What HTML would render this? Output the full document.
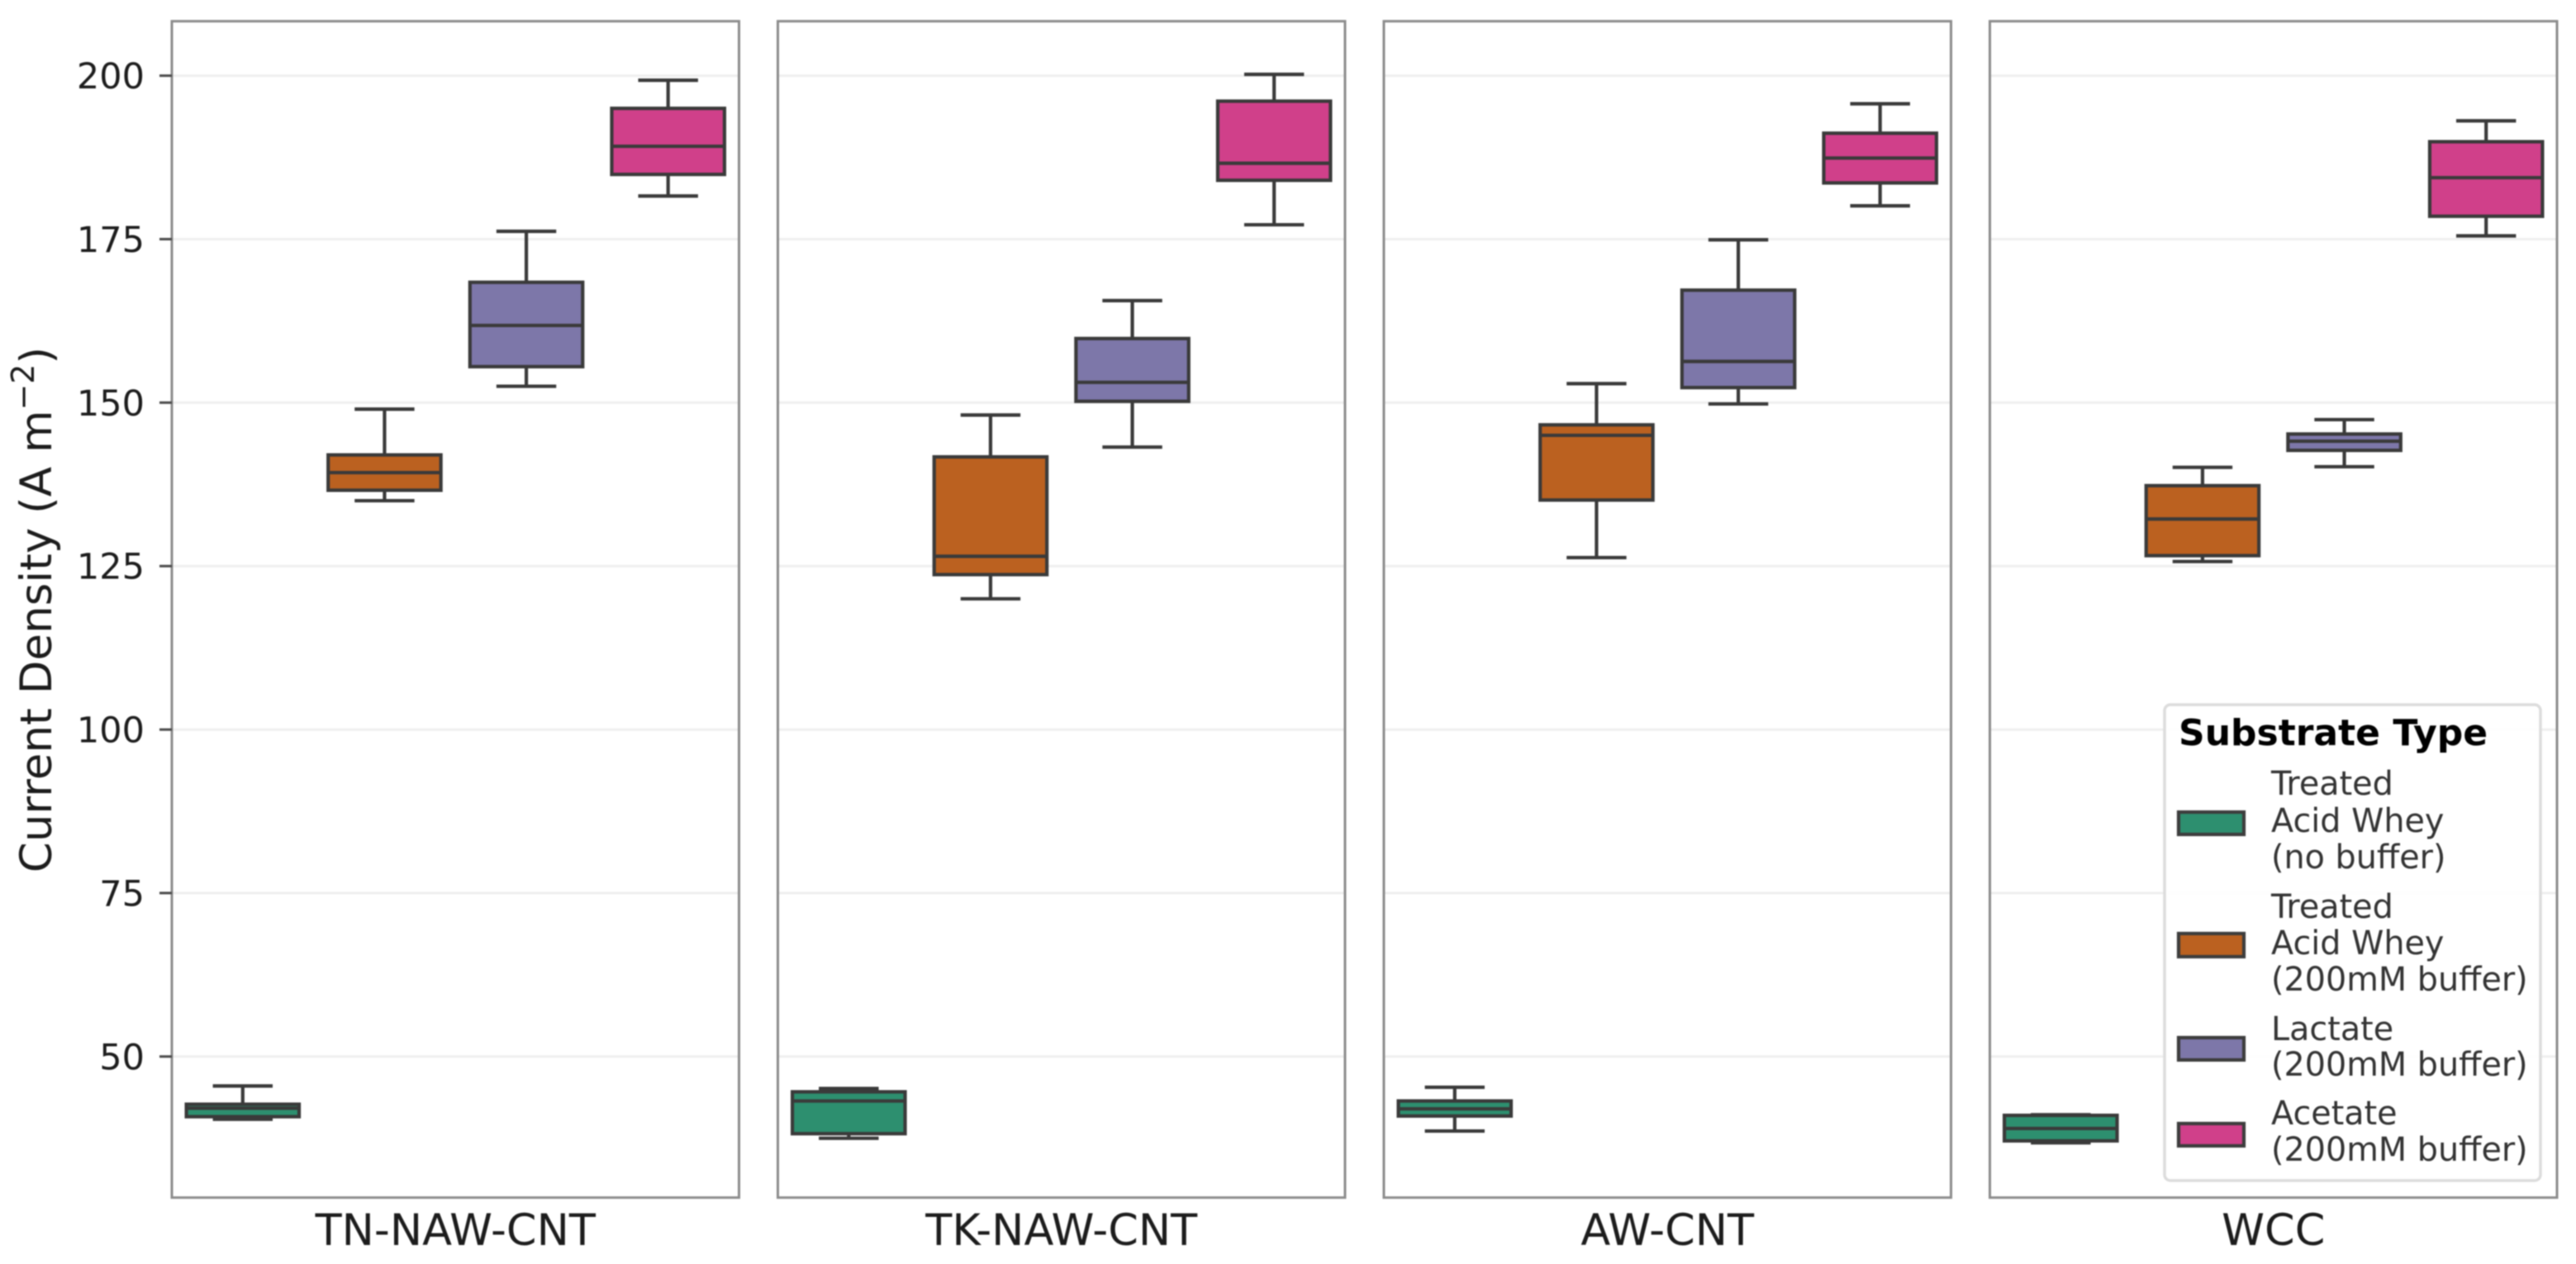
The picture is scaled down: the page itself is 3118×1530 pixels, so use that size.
<!DOCTYPE html>
<html lang="en">
<head>
<meta charset="utf-8">
<title>Current Density by Electrode and Substrate</title>
<style>
  html, body { margin: 0; padding: 0; background: #fff; }
  body { width: 3118px; height: 1530px; overflow: hidden; }
  svg { display: block; filter: blur(0.9px); font-family: "DejaVu Sans", "Liberation Sans", sans-serif; }
</style>
</head>
<body>
<svg id="chart" xmlns="http://www.w3.org/2000/svg" width="3118" height="1530" viewBox="0 0 3118 1530">
  <rect x="0" y="0" width="3118" height="1530" fill="#ffffff"/>
  <g id="panels"></g>
  <g id="y-axis"></g>
  <text x="62" y="738" transform="rotate(-90 62 738)" text-anchor="middle" font-size="53" fill="#1c1c1c">Current Density (A m<tspan font-size="38" dy="-21">−2</tspan><tspan dy="21">)</tspan></text>

  <g>
    <rect x="2620" y="853" width="455" height="576" rx="7" ry="7" fill="#ffffff" fill-opacity="0.9" stroke="#dcdcdc" stroke-width="3.5"/>
    <text x="2637" y="902" font-size="44" font-weight="bold" fill="#000000">Substrate Type</text>

    <g>
      <rect x="2637" y="983" width="79" height="27" fill="#2d8f6f" stroke="#3d3d3d" stroke-width="4.2"/>
      <text font-size="39.7" fill="#333333"><tspan x="2749" y="962">Treated</tspan><tspan x="2749" y="1007">Acid Whey</tspan><tspan x="2749" y="1051">(no buffer)</tspan></text>
    </g>
    <g>
      <rect x="2637" y="1130" width="79" height="28" fill="#bb6120" stroke="#3d3d3d" stroke-width="4.2"/>
      <text font-size="39.7" fill="#333333"><tspan x="2749" y="1111">Treated</tspan><tspan x="2749" y="1155">Acid Whey</tspan><tspan x="2749" y="1199">(200mM buffer)</tspan></text>
    </g>
    <g>
      <rect x="2637" y="1256" width="79" height="27" fill="#7d77a9" stroke="#3d3d3d" stroke-width="4.2"/>
      <text font-size="39.7" fill="#333333"><tspan x="2749" y="1259">Lactate</tspan><tspan x="2749" y="1302">(200mM buffer)</tspan></text>
    </g>
    <g>
      <rect x="2637" y="1360" width="79" height="27" fill="#d0408a" stroke="#3d3d3d" stroke-width="4.2"/>
      <text font-size="39.7" fill="#333333"><tspan x="2749" y="1361">Acetate</tspan><tspan x="2749" y="1405">(200mM buffer)</tspan></text>
    </g>
  </g>
</svg>

<script>
// ---- chart data (one row per electrode, one column per substrate) ----
const electrodes = ["TN-NAW-CNT", "TK-NAW-CNT", "AW-CNT", "WCC"];
const substrates = ["treated-no-buffer", "treated-200mm", "lactate", "acetate"];
const yTickValues = [50, 75, 100, 125, 150, 175, 200];

const whiskerHigh = [
  [45.5, 149.0, 176.2, 199.3],
  [45.1, 148.1, 165.6, 200.2],
  [45.3, 152.9, 174.9, 195.7],
  [41.1, 140.1, 147.4, 193.1]
];
const quartile3 = [
  [42.7, 142.0, 168.4, 195.0],
  [44.6, 141.7, 159.8, 196.1],
  [43.2, 146.6, 167.2, 191.2],
  [41.0, 137.3, 145.2, 189.9]
];
const medians = [
  [42.1, 139.3, 161.8, 189.2],
  [43.2, 126.5, 153.1, 186.6],
  [42.0, 145.0, 156.3, 187.4],
  [39.0, 132.2, 144.1, 184.4]
];
const quartile1 = [
  [40.8, 136.6, 155.5, 184.9],
  [38.2, 123.7, 150.2, 184.0],
  [40.9, 135.1, 152.3, 183.6],
  [37.1, 126.6, 142.7, 178.5]
];
const whiskerLow = [
  [40.4, 135.0, 152.5, 181.6],
  [37.5, 120.0, 143.2, 177.2],
  [38.6, 126.3, 149.8, 180.1],
  [36.8, 125.7, 140.2, 175.5]
];
const seriesColors = ["#2d8f6f", "#bb6120", "#7d77a9", "#d0408a"];

// ---- layout and axis functions ----
const SVG_NS = "http://www.w3.org/2000/svg";
const plotTop = 25.7;
const plotBottom = 1449.6;
const panelWidth = 686.5;
const panelStep = 733.5;
const firstPanelLeft = 208;
const lineColor = "#3a3a3a";
const lineWidth = 4.2;

function yScale(value) {
  return 91.6 + (200 - value) * 7.915;
}
function panelLeft(panelIndex) {
  return firstPanelLeft + panelIndex * panelStep;
}
function xCenter(panelIndex, seriesIndex) {
  return panelLeft(panelIndex) + panelWidth / substrates.length * (seriesIndex + 0.5);
}
const boxWidth = 0.795 * panelWidth / substrates.length;
const capWidth = boxWidth / 2;

function make(tag, attrs, parent) {
  const el = document.createElementNS(SVG_NS, tag);
  for (const key in attrs) {
    el.setAttribute(key, attrs[key]);
  }
  parent.appendChild(el);
  return el;
}

const panelsRoot = document.getElementById("panels");
const yAxisRoot = document.getElementById("y-axis");

// y-axis ticks and labels
yTickValues.forEach(function (tick) {
  const y = yScale(tick);
  const mark = make("line", { x1: 193, x2: 208, y1: y, y2: y, stroke: "#4a4a4a", "stroke-width": 3 }, yAxisRoot);
  
  
  const label = make("text", { x: 175, y: y + 15.5, "text-anchor": "end", "font-size": 43, fill: "#1c1c1c" }, yAxisRoot);
  
  
  label.textContent = String(tick);
});

// panels
electrodes.forEach(function (electrode, p) {
  const left = panelLeft(p);
  const slug = electrode.toLowerCase();
  const group = make("g", {}, panelsRoot);
  
  

  yTickValues.forEach(function (tick) {
    const y = yScale(tick);
    const grid = make("line", { x1: left, x2: left + panelWidth, y1: y, y2: y, stroke: "#efefef", "stroke-width": 3 }, group);
    
    
  });

  substrates.forEach(function (substrate, s) {
    const cx = xCenter(p, s);
    const box = make("g", {}, group);
    
    

    const stroke = { stroke: lineColor, "stroke-width": lineWidth };
    const upper = make("line", Object.assign({ x1: cx, x2: cx, y1: yScale(quartile3[p][s]), y2: yScale(whiskerHigh[p][s]) }, stroke), box);
    
    
    const lower = make("line", Object.assign({ x1: cx, x2: cx, y1: yScale(quartile1[p][s]), y2: yScale(whiskerLow[p][s]) }, stroke), box);
    
    
    const capHigh = make("line", Object.assign({ x1: cx - capWidth / 2, x2: cx + capWidth / 2, y1: yScale(whiskerHigh[p][s]), y2: yScale(whiskerHigh[p][s]), "stroke-linecap": "square" }, stroke), box);
    
    
    const capLow = make("line", Object.assign({ x1: cx - capWidth / 2, x2: cx + capWidth / 2, y1: yScale(whiskerLow[p][s]), y2: yScale(whiskerLow[p][s]), "stroke-linecap": "square" }, stroke), box);
    
    

    const top = yScale(quartile3[p][s]);
    const bottom = yScale(quartile1[p][s]);
    const rect = make("rect", Object.assign({ x: cx - boxWidth / 2, y: top, width: boxWidth, height: bottom - top, fill: seriesColors[s] }, stroke), box);
    
    
    const med = make("line", Object.assign({ x1: cx - boxWidth / 2, x2: cx + boxWidth / 2, y1: yScale(medians[p][s]), y2: yScale(medians[p][s]) }, stroke), box);
    
    
  });

  const frame = make("rect", { x: left, y: plotTop, width: panelWidth, height: plotBottom - plotTop, fill: "none", stroke: "#8c8c8c", "stroke-width": 3 }, group);
  
  

  const xLabel = make("text", { x: left + panelWidth / 2, y: 1507, "text-anchor": "middle", "font-size": 52.5, fill: "#1c1c1c" }, group);
  
  
  xLabel.textContent = electrode;
});
</script>
</body>
</html>
